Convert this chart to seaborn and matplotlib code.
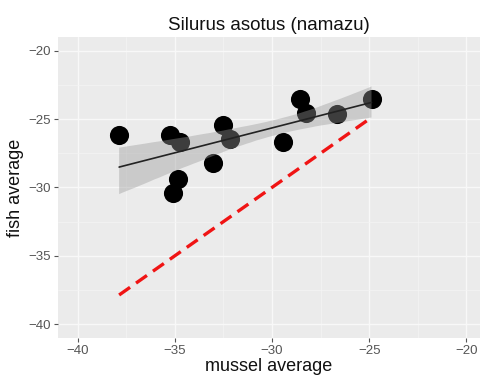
import numpy as np
import pandas as pd
import matplotlib
matplotlib.use("Agg")
import matplotlib.pyplot as plt
import seaborn as sns

# data
mussel = [-37.86, -35.25, -34.74, -32.51, -32.17, -33.03, -34.83, -35.08,
          -29.43, -28.57, -28.23, -26.65, -24.88]
fish = [-26.18, -26.18, -26.67, -25.46, -26.42, -28.23, -29.38, -30.39,
        -26.67, -23.54, -24.57, -24.62, -23.54]
x_ticks = [-40, -35, -30, -25, -20]
y_ticks = [-40, -35, -30, -25, -20]
minor_ticks = [-37.5, -32.5, -27.5, -22.5]
title = "Silurus asotus (namazu)"

df = pd.DataFrame({"mussel": mussel, "fish": fish})

sns.set_theme(style="darkgrid", rc={
    "axes.facecolor": "#EBEBEB",
    "grid.color": "white",
    "axes.edgecolor": "#EBEBEB",
})
plt.rcParams["font.family"] = ["Liberation Sans", "DejaVu Sans"]

fig = plt.figure(figsize=(4.8, 3.78), dpi=100)
ax = fig.add_axes([0.121, 0.106, 0.879, 0.796])

sns.regplot(data=df, x="mussel", y="fish", ax=ax, ci=90, n_boot=4000, seed=11,
            scatter_kws=dict(s=190, color="black", alpha=1, linewidths=0),
            line_kws=dict(color="#222222", lw=1.2))
# restyle confidence band like ggplot (grey60, alpha .4)
for coll in ax.collections[1:]:
    coll.set_facecolor("#999999")
    coll.set_alpha(0.4)
    coll.set_edgecolor("none")

ref = pd.DataFrame({"x": [min(mussel), max(mussel)]})
ref["y"] = ref["x"]
sns.lineplot(data=ref, x="x", y="y", ax=ax, color="#F01414", lw=2.4,
             dashes=False, zorder=4)
ax.lines[-1].set_dashes((4, 2.2))

ax.set_xlim(-41, -19.3)
ax.set_ylim(-41, -19)
ax.set_xticks(x_ticks)
ax.set_yticks(y_ticks)
ax.xaxis.set_minor_locator(plt.FixedLocator(minor_ticks))
ax.yaxis.set_minor_locator(plt.FixedLocator(minor_ticks))
ax.grid(which="major", color="#F8F8F8", lw=1.0)
ax.grid(which="minor", color="#F4F4F4", lw=0.5)
ax.tick_params(which="major", length=3, width=0.8, color="#555555",
               labelcolor="#555555", labelsize=9.5, pad=2, bottom=True, left=True)
ax.tick_params(which="minor", length=0)
for s in ax.spines.values():
    s.set_visible(False)

ax.set_xlabel("mussel average", fontsize=13, color="#111111", labelpad=1)
ax.set_ylabel("fish average", fontsize=13, color="#111111", labelpad=3)
ax.set_title(title, fontsize=13.5, color="#111111", pad=5)

fig.savefig("out.png", dpi=100)
